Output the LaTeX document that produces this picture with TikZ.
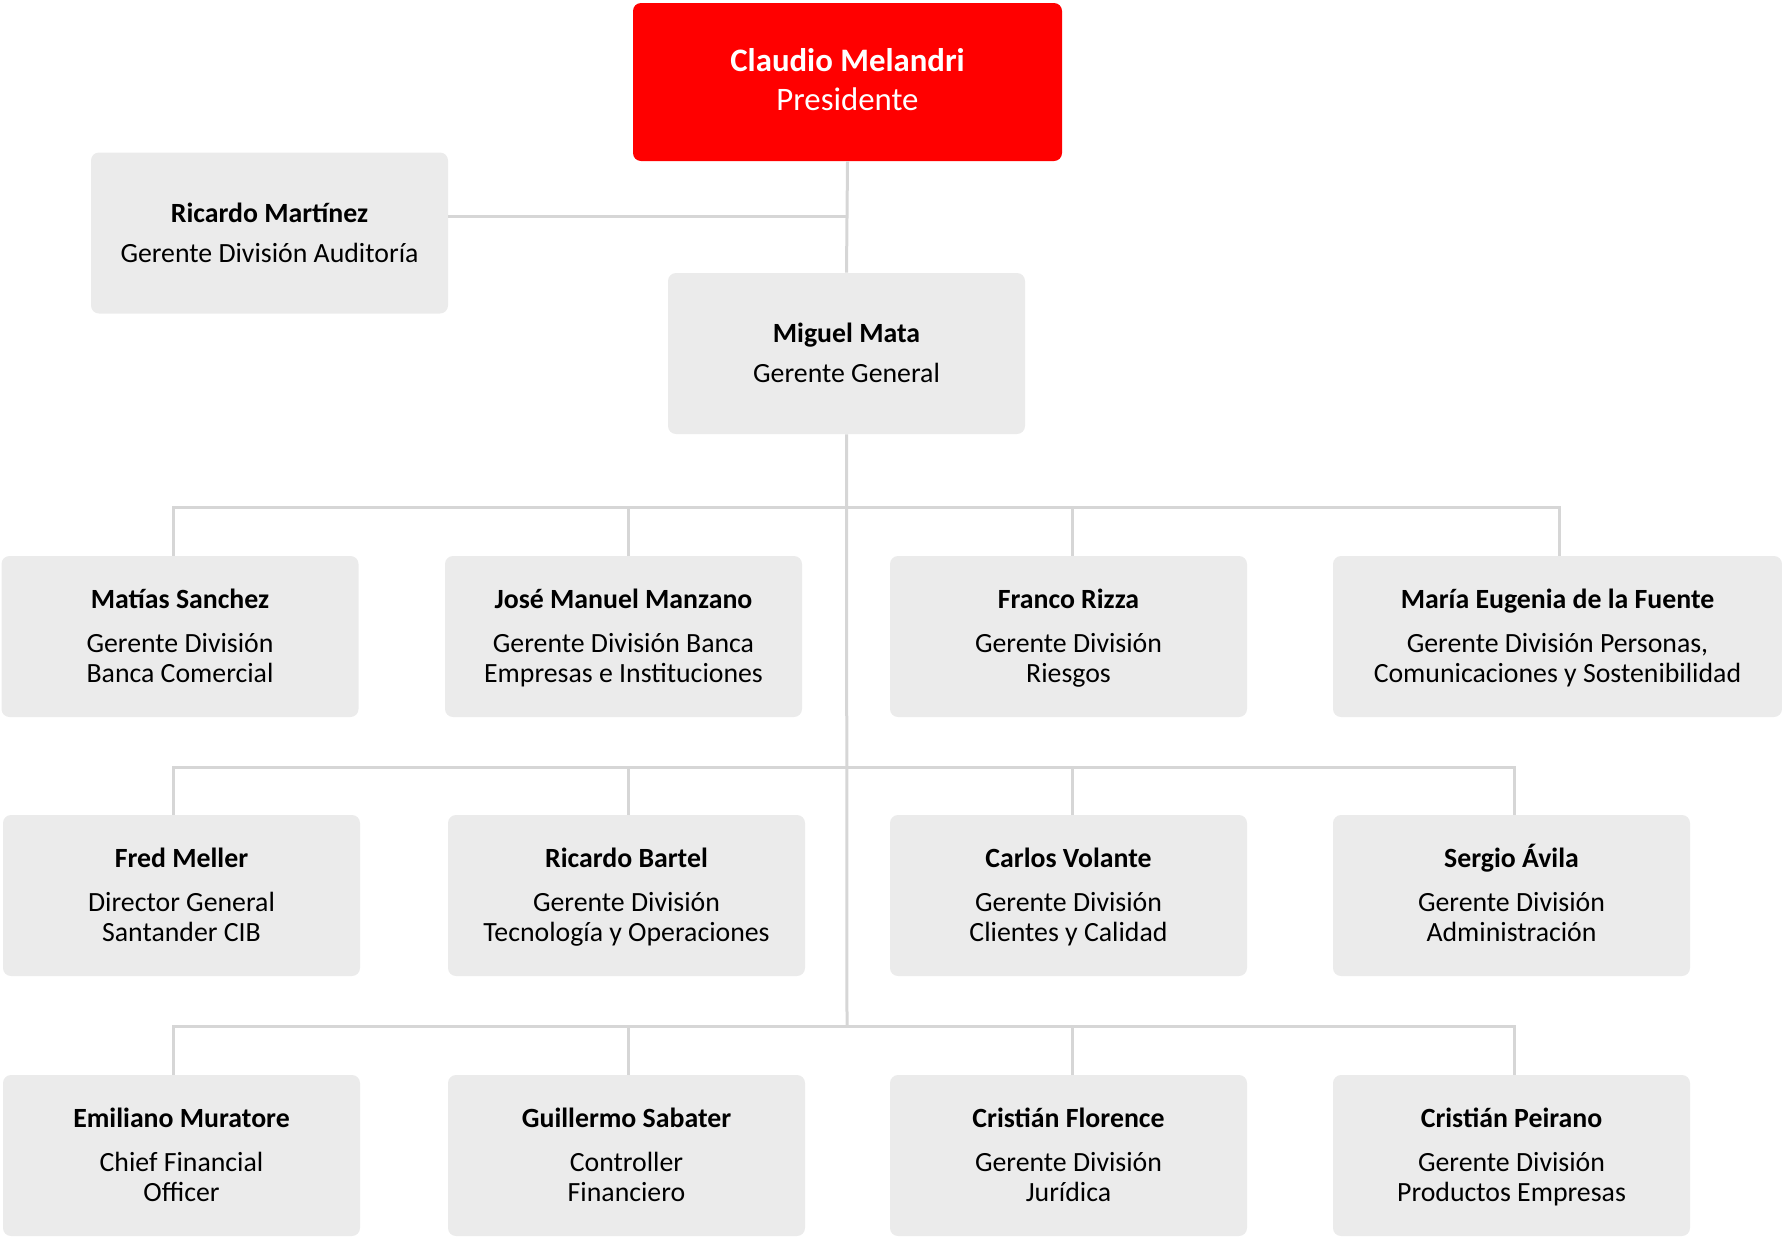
\documentclass[tikz,border=0pt]{standalone}
\usepackage{fontspec}
\setmainfont{Carlito}
\usetikzlibrary{positioning,calc}
\definecolor{rojo}{HTML}{FF0000}
\definecolor{grisbox}{HTML}{EBEBEB}
\definecolor{grislinea}{HTML}{D6D6D6}
\newcommand{\arriba}{\rule{0pt}{13pt}}
\newcommand{\abajo}{\rule[-4pt]{0pt}{4pt}}
\tikzset
{
	cargo/.style = {rectangle, rounded corners=4pt, fill=grisbox, align=center, inner sep=0pt, minimum width=178.5pt, minimum height=80.5pt, font=\fontsize{13.9}{15}\selectfont},
	presidente/.style = {cargo, fill=rojo, text=white, minimum width=214.5pt, minimum height=79pt, font=\fontsize{16.4}{19.5}\selectfont},
	ancho/.style = {cargo, minimum width=224.5pt},
	linea/.style = {draw=grislinea, line width=1.5pt}
}
\begin{document}
\begin{tikzpicture}[x=0.5pt, y=-0.5pt]
\useasboundingbox (0,0) rectangle (1782,1237);
% cabeza
\node[presidente] (pres) at (847.5,82) {\arriba\textbf{Claudio Melandri}\\Presidente\abajo};
\node[cargo] (audit) at (269.5,233) {\arriba\textbf{Ricardo Martínez}\\[5pt]Gerente División Auditoría\abajo};
\node[cargo] (gg) at (846.5,353.5) {\arriba\textbf{Miguel Mata}\\[5pt]Gerente General\abajo};
% fila 1
\node[cargo] (sanchez) at (180,636.5) {\arriba\textbf{Matías Sanchez}\\[7pt]Gerente División\\Banca Comercial\abajo};
\node[cargo] (manzano) at (623.5,636.5) {\arriba\textbf{José Manuel Manzano}\\[7pt]Gerente División Banca\\Empresas e Instituciones\abajo};
\node[cargo] (rizza) at (1068.5,636.5) {\arriba\textbf{Franco Rizza}\\[7pt]Gerente División\\Riesgos\abajo};
\node[ancho] (fuente) at (1557.5,636.5) {\arriba\textbf{María Eugenia de la Fuente}\\[7pt]Gerente División Personas,\\Comunicaciones y Sostenibilidad\abajo};
% fila 2
\node[cargo] (meller) at (181.5,895.5) {\arriba\textbf{Fred Meller}\\[7pt]Director General\\Santander CIB\abajo};
\node[cargo] (bartel) at (626.5,895.5) {\arriba\textbf{Ricardo Bartel}\\[7pt]Gerente División\\Tecnología y Operaciones\abajo};
\node[cargo] (volante) at (1068.5,895.5) {\arriba\textbf{Carlos Volante}\\[7pt]Gerente División\\Clientes y Calidad\abajo};
\node[cargo] (avila) at (1511.5,895.5) {\arriba\textbf{Sergio Ávila}\\[7pt]Gerente División\\Administración\abajo};
% fila 3
\node[cargo] (muratore) at (181.5,1155.5) {\arriba\textbf{Emiliano Muratore}\\[7pt]Chief Financial\\Officer\abajo};
\node[cargo] (sabater) at (626.5,1155.5) {\arriba\textbf{Guillermo Sabater}\\[7pt]Controller\\Financiero\abajo};
\node[cargo] (florence) at (1068.5,1155.5) {\arriba\textbf{Cristián Florence}\\[7pt]Gerente División\\Jurídica\abajo};
\node[cargo] (peirano) at (1511.5,1155.5) {\arriba\textbf{Cristián Peirano}\\[7pt]Gerente División\\Productos Empresas\abajo};
% lineas
\coordinate (ja) at (847,216);
\coordinate (bus1) at (847,507);
\coordinate (bus2) at (847,767);
\coordinate (bus3) at (847,1026);
\draw[linea] (pres.south) -- (gg.north);
\draw[linea] (ja -| audit.east) -- (ja);
\draw[linea] (gg.south) -- (bus3);
\draw[linea] ([xshift=-3.5pt]sanchez.north) |- (bus1) -| ([xshift=0.75pt]fuente.north);
\draw[linea] ([xshift=-4.25pt]meller.north) |- (bus2) -| ([xshift=1.25pt]avila.north);
\draw[linea] ([xshift=-4.25pt]muratore.north) |- (bus3) -| ([xshift=1.25pt]peirano.north);
\foreach \n/\b/\dx in {manzano/bus1/2.25, rizza/bus1/1.75, bartel/bus2/0.75, volante/bus2/1.75, sabater/bus3/0.75, florence/bus3/1.75}
  \draw[linea] ([xshift=\dx pt]\n.north |- \b) -- ([xshift=\dx pt]\n.north);
\end{tikzpicture}
\end{document}
